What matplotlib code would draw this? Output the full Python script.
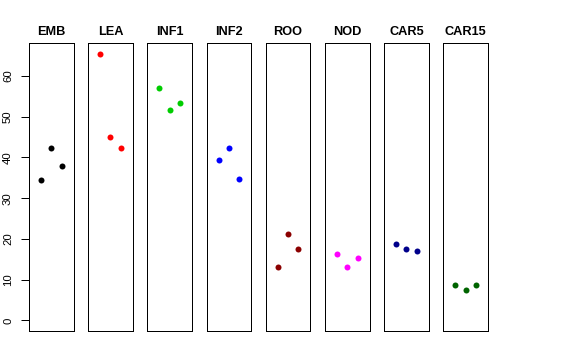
import matplotlib.pyplot as plt

plt.rcParams['font.family'] = ['Liberation Sans', 'DejaVu Sans']

groups = ["EMB", "LEA", "INF1", "INF2", "ROO", "NOD", "CAR5", "CAR15"]
colors = ["black", "red", "#00CD00", "blue", "#8B0000", "magenta", "#00008B", "#006400"]
values = [
    [34.4, 42.2, 37.9],
    [65.4, 45.0, 42.4],
    [57.0, 51.6, 53.4],
    [39.4, 42.2, 34.7],
    [13.0, 21.2, 17.5],
    [16.3, 13.0, 15.4],
    [18.7, 17.5, 17.1],
    [8.7, 7.4, 8.7],
]
reps = [1, 2, 3]
yticks = [0, 10, 20, 30, 40, 50, 60]

W, H = 576, 360
fig = plt.figure(figsize=(W / 72, H / 72), dpi=72)

ymax = max(max(v) for v in values)
ylim = (-0.04 * ymax, 1.04 * ymax)

left0, step, pw = 29, 59.2, 44.5
top, bottom = 43.3, 331

for i, (name, col, vals) in enumerate(zip(groups, colors, values)):
    ax = fig.add_axes([(left0 + i * step) / W, (H - bottom) / H, pw / W, (bottom - top) / H])
    ax.plot(reps, vals, 'o', color=col, markersize=6, markeredgewidth=0)
    ax.set_xlim(-0.16, 4.16)
    ax.set_ylim(*ylim)
    ax.set_xticks([])
    for s in ax.spines.values():
        s.set_linewidth(1)
    ax.set_title(name, fontsize=12.7, fontweight='bold', pad=8)
    if i == 0:
        ax.set_yticks(yticks)
        ax.set_yticklabels([str(t) for t in yticks], rotation=90, va='center', fontsize=11.4)
        ax.tick_params(axis='y', length=8, width=1, pad=8)
    else:
        ax.set_yticks([])

fig.savefig("out.png", dpi=72)
